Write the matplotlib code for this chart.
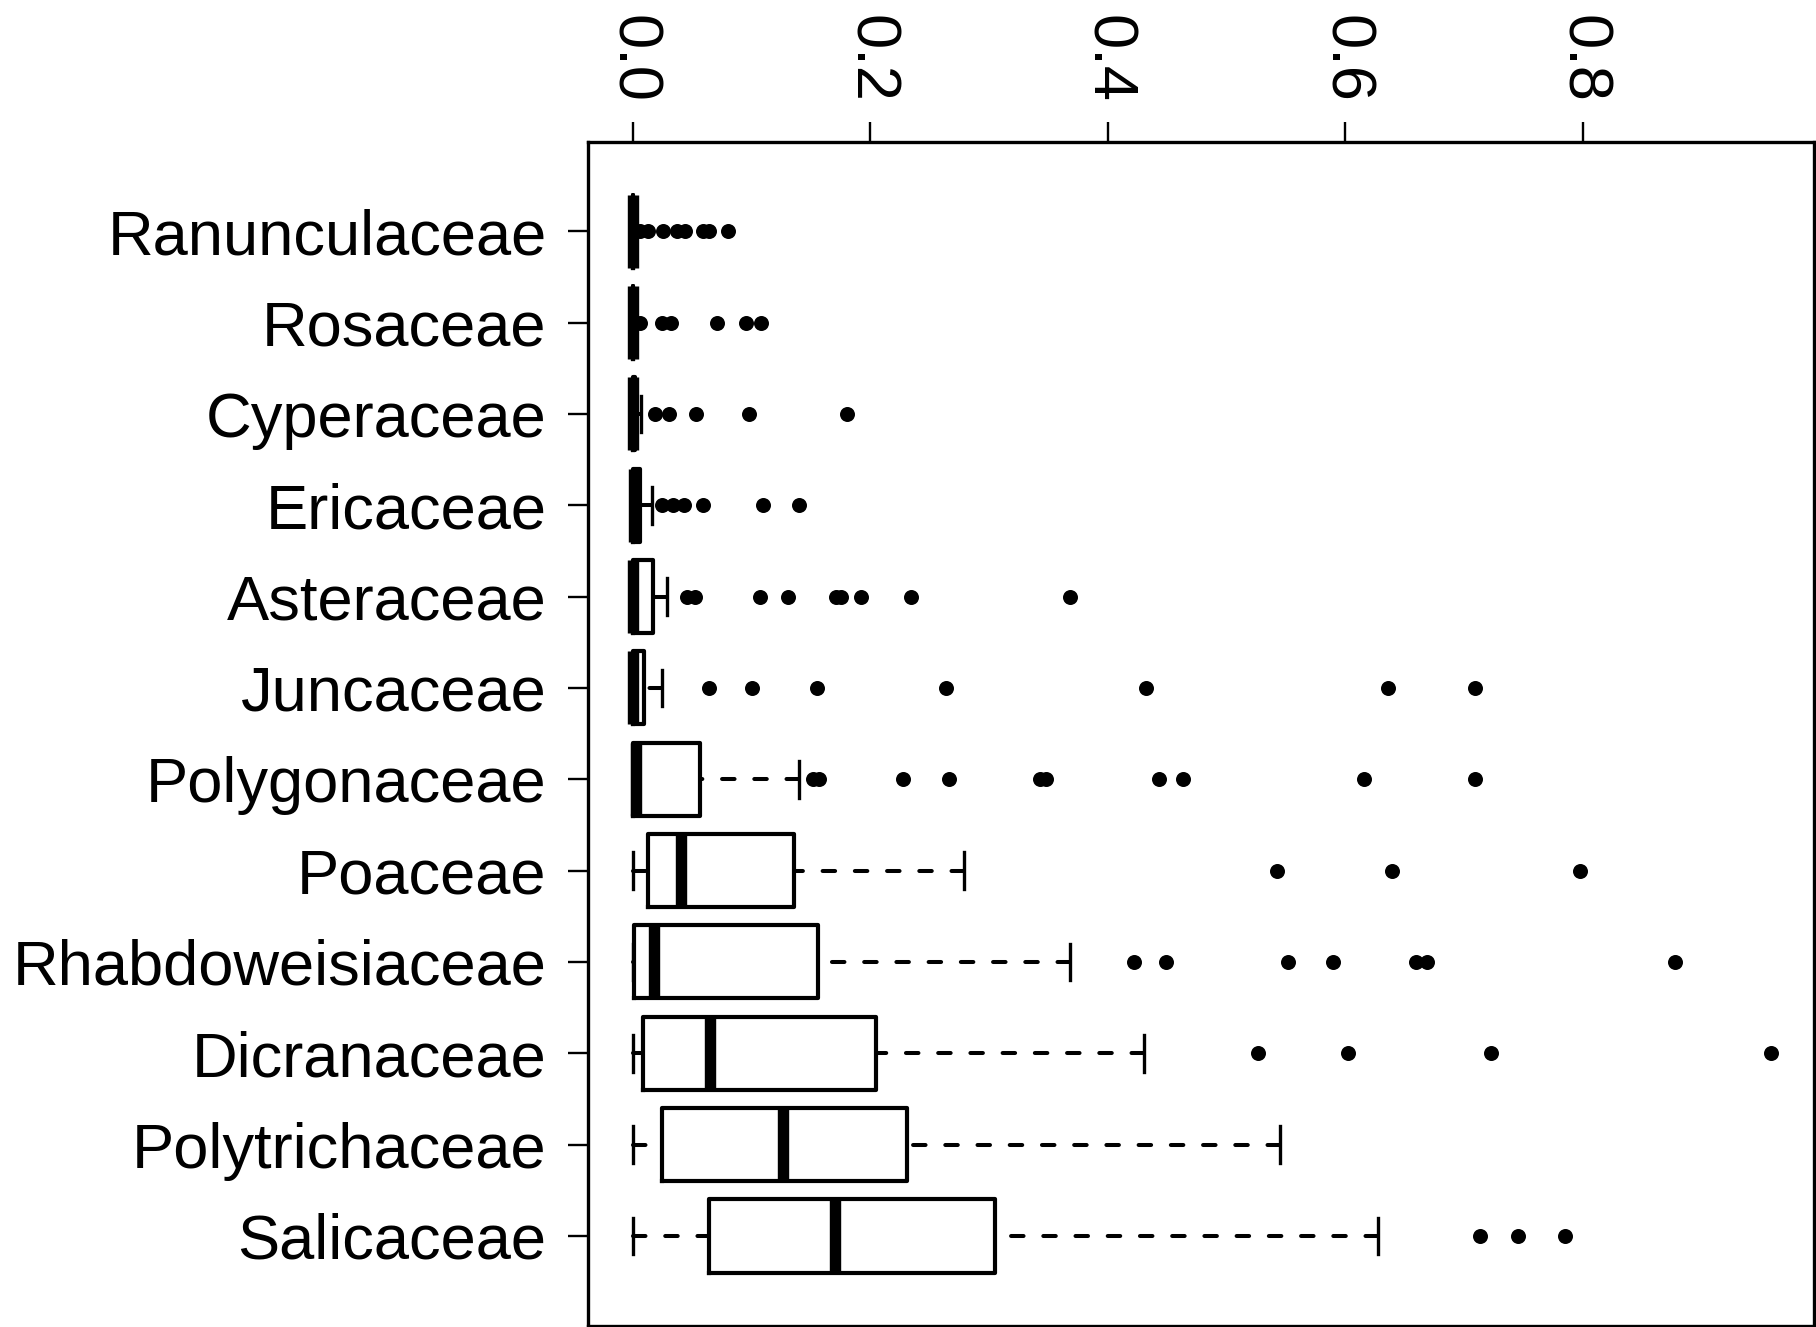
import matplotlib
matplotlib.use("Agg")
import matplotlib.pyplot as plt

# ---- data (top row first) ----
families = ["Ranunculaceae", "Rosaceae", "Cyperaceae", "Ericaceae", "Asteraceae",
            "Juncaceae", "Polygonaceae", "Poaceae", "Rhabdoweisiaceae",
            "Dicranaceae", "Polytrichaceae", "Salicaceae"]
q1 = [0.0, 0.0, 0.0, 0.0, 0.0, 0.0, 0.0002, 0.0126, 0.0007, 0.0086, 0.0246, 0.0638]
med = [0.0, 0.0, 0.0, 0.001, 0.0004, 0.0003, 0.003, 0.0405, 0.0179, 0.0651, 0.1268, 0.170]
q3 = [0.0003, 0.0003, 0.0015, 0.0065, 0.017, 0.0094, 0.0562, 0.136, 0.156, 0.2045, 0.231, 0.3054]
whislo = [0.0, 0.0, 0.0, 0.0, 0.0, 0.0, 0.0, 0.0, 0.0, 0.0, 0.0, 0.0]
whishi = [0.0003, 0.0003, 0.0068, 0.0159, 0.0285, 0.0243, 0.140, 0.2788, 0.3685, 0.4302, 0.545, 0.6273]
fliers = [
    [0.006, 0.0125, 0.0257, 0.037, 0.044, 0.0594, 0.064, 0.0805],
    [0.006, 0.025, 0.032, 0.0706, 0.0955, 0.108],
    [0.0187, 0.0308, 0.053, 0.098, 0.180],
    [0.0243, 0.0336, 0.0431, 0.0594, 0.110, 0.140],
    [0.0455, 0.0525, 0.1075, 0.1308, 0.171, 0.175, 0.1919, 0.2344, 0.3678],
    [0.064, 0.1002, 0.1554, 0.2636, 0.4322, 0.636, 0.709],
    [0.152, 0.157, 0.2277, 0.2662, 0.343, 0.348, 0.4435, 0.4634, 0.616, 0.709],
    [0.5424, 0.6393, 0.7973],
    [0.4223, 0.4488, 0.5517, 0.5895, 0.6593, 0.6692, 0.8776],
    [0.5265, 0.6021, 0.7229, 0.9586],
    [],
    [0.7137, 0.7455, 0.7847],
]
xticks = [0.0, 0.2, 0.4, 0.6, 0.8]
xticklabels = ["0.0", "0.2", "0.4", "0.6", "0.8"]

plt.rcParams['font.family'] = ['Liberation Sans', 'DejaVu Sans']

W, H = 1816, 1327
fig = plt.figure(figsize=(W / 100, H / 100), dpi=100)
left, right, top, bottom = 588, 1813.6, 141.7, 1325.5
ax = fig.add_axes([left / W, 1 - bottom / H, (right - left) / W, (bottom - top) / H])

n = len(families)
positions = list(range(n, 0, -1))
stats = []
for i in range(n):
    stats.append(dict(q1=q1[i], med=med[i], q3=q3[i], whislo=whislo[i],
                      whishi=whishi[i], fliers=fliers[i], label=families[i]))

res = ax.bxp(stats, positions=positions, widths=0.8, capwidths=0.4,
             orientation='horizontal', showfliers=True,
             boxprops=dict(color='black', linewidth=3.0, solid_joinstyle='round'),
             medianprops=dict(color='black', linewidth=8.2, solid_capstyle='butt'),
             whiskerprops=dict(color='black', linewidth=2.9, linestyle=(0, (3.1, 4.9)),
                               dash_capstyle='round'),
             capprops=dict(color='black', linewidth=2.4),
             flierprops=dict(marker='o', markerfacecolor='black', markeredgecolor='black',
                             markeredgewidth=0, markersize=10.8, linestyle='none'))

# R draws whiskers from the staple toward the box
for ln in res['whiskers']:
    ln.set_xdata(list(ln.get_xdata())[::-1])
    ln.set_ydata(list(ln.get_ydata())[::-1])

ax.set_xlim(-0.0377, 0.9944)
ax.set_ylim(0.02, 12.98)

ax.xaxis.tick_top()
ax.set_xticks(xticks)
ax.set_xticklabels(xticklabels, rotation=270, fontsize=45.5)
ax.set_yticks(positions)
ax.set_yticklabels(families, fontsize=45.5)
ax.tick_params(axis='x', which='both', top=True, bottom=False, length=14.4, width=1.7, pad=13.8)
ax.tick_params(axis='y', which='both', left=True, right=False, length=14.6, width=1.7, pad=15.2)

for sp in ax.spines.values():
    sp.set_linewidth(2.4)
    sp.set_color('black')

fig.savefig("out.png", dpi=100)
